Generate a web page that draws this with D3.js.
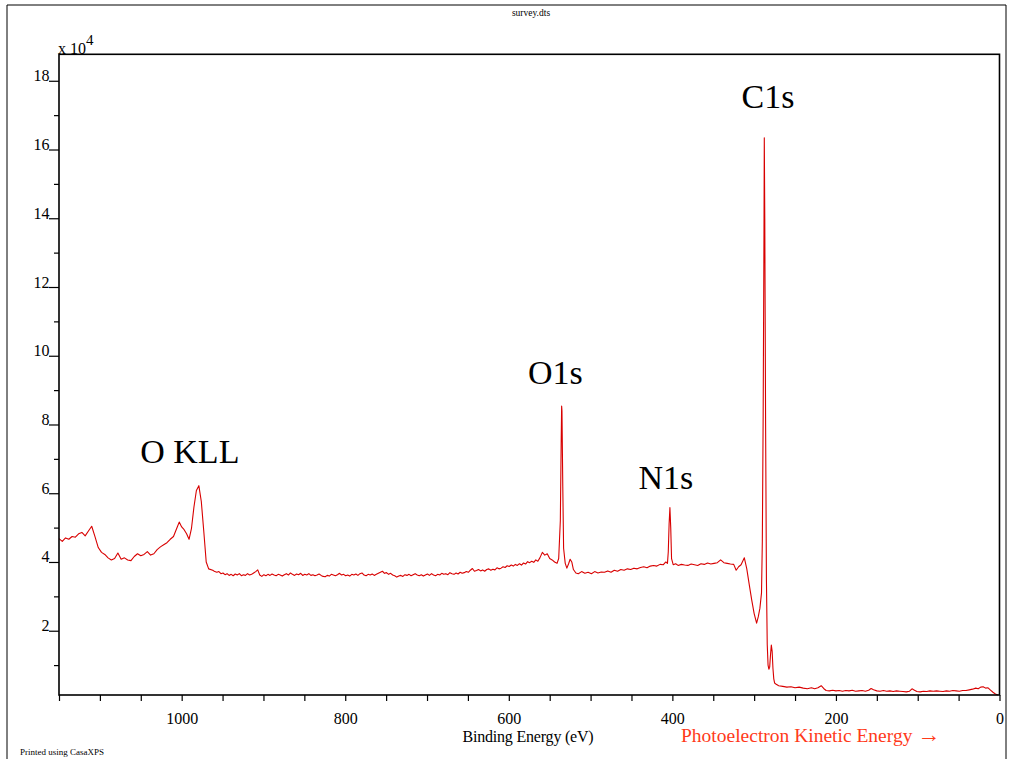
<!DOCTYPE html>
<html>
<head>
<meta charset="utf-8">
<script src="https://cdn.jsdelivr.net/npm/d3@7"></script>
<style>
  html, body { margin: 0; padding: 0; background: #fff; }
  svg { display: block; }
</style>
</head>
<body>
<svg id="chart" width="1009" height="759"></svg>
<script>
// XPS survey spectrum: binding energy (eV) and intensity (counts per second)
const bindingEnergy = [
  // O KLL Auger region
  1150,1146,1142,1138,1134,1130,1126,1122,1118,1114,
  1110,1106,1102,1098,1094,1090,1086,1082,1078,1074,
  1070,1066,1062,1058,1054,1050,1046,1042,1038,1034,
  1030,1026,1022,1018,1014,1010,1006,1003,1000,997,
  994,991,988,985,982,979,976,973,970,967,
  // flat background
  962,959.5,957,954.5,952,949.5,947,944.5,942,939.5,
  937,934.5,932,929.5,927,924.5,922,919.5,917,914.5,
  912,909.5,907,904.5,902,899.5,897,894.5,892,889.5,
  887,884.5,882,879.5,877,874.5,872,869.5,867,864.5,
  862,859.5,857,854.5,852,849.5,847,844.5,842,839.5,
  837,834.5,832,829.5,827,824.5,822,819.5,817,814.5,
  812,809.5,807,804.5,802,799.5,797,794.5,792,789.5,
  787,784.5,782,779.5,777,774.5,772,769.5,767,764.5,
  762,759.5,757,754.5,752,749.5,747,744.5,742,739.5,
  737,734.5,732,729.5,727,724.5,722,719.5,717,714.5,
  712,709.5,707,704.5,702,699.5,697,694.5,692,689.5,
  687,684.5,682,679.5,677,674.5,672,669.5,667,664.5,
  662,659.5,657,654.5,652,649.5,647,644.5,642,639.5,
  637,634.5,632,629.5,627,624.5,622,619.5,617,614.5,
  612,609.5,607,604.5,602,599.5,597,594.5,592,589.5,
  587,584.5,582,579.5,577,574.5,572,569.5,567,564.5,
  // O1s, N1s and C1s
  562,559,556,553,550,547,544,541,539,537,
  536,535.4,535,534,533,531,529,527,525,523,
  521,518,515,511,507,503,499,495,491,487,
  483,479,475,471,467,463,459,455,451,447,
  443,439,435,431,427,423,419,415,411,408,
  406,405,404,403,402,401,399,396,393,389,
  385,381,377,373,369,365,361,357,353,349,
  345,341,337,333,329,325,322,319,316,312,
  309,306,303,300,297,295,293,291,290,289,
  288,287.6,287,286,285,284,283,282,281,280,
  279,278,277,276,275,273,270,265,260,255,
  // valence region
  250,245,240,235,230,226,222,218,215,212,
  208,204,200,196,192,188,184,180,176,172,
  168,164,160,157,154,150,146,142,138,134,
  130,126,122,118,114,110,107,104,101,97,
  93,89,85,81,77,73,69,65,61,57,
  53,49,45,41,37,33,29,26,23,20,
  17,14,11,8,5,2
];
const intensity = [
  46800,46000,47000,46600,47400,47200,48200,48600,47600,49000,
  50400,47400,44200,42800,42200,41200,40600,41000,42600,40800,
  41200,40600,40400,41600,42400,41800,42200,43000,42000,42400,
  43600,44400,45000,45600,46600,47400,49800,51600,50200,49400,
  48200,46600,49800,56000,60800,62200,57600,49000,40000,38000,
  37600,37200,37000,37200,36600,36800,36300,36600,36100,36400,
  36000,36500,36200,36600,36000,36300,36100,36600,36200,36400,
  36800,37200,37700,36200,35800,36300,36000,36400,36100,36500,
  36200,36000,36400,36200,35900,36300,36600,36200,36800,36400,
  36100,36500,36300,36700,36100,36400,36200,36600,36100,36300,
  36000,36200,36500,36100,35800,35700,36100,35900,36400,36200,
  36000,36300,36700,36200,36400,36000,36200,35900,36400,36200,
  36500,36100,36600,36800,36200,36000,36400,36200,36500,36100,
  36400,36700,37000,37300,36700,36900,36400,36700,36200,36000,
  35600,35900,36100,35800,36300,36100,36400,36000,36300,36600,
  36200,36000,36300,35900,36200,36500,36100,36600,36200,36000,
  36400,36200,36700,36400,36600,36300,36900,36600,36400,36800,
  36500,37000,36700,36900,37200,37000,37600,38100,37300,37500,
  37800,37400,37700,37300,37800,38000,37600,37900,37700,38300,
  38000,38200,38600,38400,38900,38700,39100,38800,39300,39000,
  39500,39100,39700,39400,40100,39800,40200,39900,40600,40200,
  41200,42800,42000,42400,41000,40600,40000,39600,41000,52000,
  74000,85400,84000,62000,44000,39600,38200,39400,40800,40000,
  37800,36800,36600,37200,36700,37000,36600,37200,36800,37100,
  37000,37400,37000,37600,37300,37800,37600,38000,37800,38200,
  38000,38400,38600,38300,38800,39000,38800,39300,39200,40000,
  39600,43000,51000,55800,50000,41000,39200,39500,39000,39300,
  39100,39000,39400,39200,39000,39500,39300,39700,39400,39600,
  39800,40600,39800,39600,39400,39300,37600,38600,39200,41200,
  38000,33400,29000,25000,22200,24000,26500,31000,46000,82000,
  135000,163400,140000,80000,35000,16000,10000,8800,9400,13000,
  15800,14000,9000,6000,4800,4400,4000,3800,3600,3700,
  3400,3600,3300,3100,3400,3100,3400,4000,3200,2600,
  2500,2700,2500,2600,2400,2600,2500,2700,2400,2500,
  2600,2400,2700,3200,2800,2500,2400,2600,2400,2500,
  2300,2500,2400,2300,2200,2400,3100,2700,2300,2200,
  2400,2300,2500,2400,2500,2400,2300,2500,2400,2600,
  2500,2400,2600,2600,2800,3000,3300,3100,3600,3700,
  3300,3400,2700,2100,1600,1300
];

// Axis ticks
const xMajorTicks = [1000, 800, 600, 400, 200, 0];
const xMinorTicks = [1150,1100,1050,1000,950,900,850,800,750,700,650,600,550,500,450,400,350,300,250,200,150,100,50,0];
const yMajorTicks = [20000,40000,60000,80000,100000,120000,140000,160000,180000];
const yMinorTicks = [10000,30000,50000,70000,90000,110000,130000,150000,170000];
const yTickLabels = ["2","4","6","8","10","12","14","16","18"];

// Peak annotations
const peakNames = ["O KLL", "O1s", "N1s", "C1s"];
const peakLabelBE = [990, 543, 408, 283];
const peakLabelY = [463, 384, 489, 108];

const SERIF = "'Liberation Serif', 'Times New Roman', serif";
const svg = d3.select("#chart");
const plotLeft = 59, plotRight = 999.5, plotTop = 54.3, plotBottom = 695;

const x = d3.scaleLinear().domain([1150, 0]).range([plotLeft, plotRight]);
const y = d3.scaleLinear().domain([1300, 187700]).range([plotBottom, plotTop]);

// page frame
svg.append("path")
  .attr("d", "M7,770 V5 H1006 V770")
  .attr("fill", "none").attr("stroke", "#000").attr("stroke-width", 1);

// title
svg.append("text").attr("x", 531).attr("y", 16).attr("text-anchor", "middle")
  .attr("font-size", 9.5).text("survey.dts");

// spectrum
const pts = bindingEnergy.map((d, i) => [d, intensity[i]]);
svg.append("path")
  .datum(pts)
  .attr("fill", "none")
  .attr("stroke", "#d80000")
  .attr("stroke-width", 1.1)
  .attr("stroke-linejoin", "round")
  .attr("d", d3.line().x(d => x(d[0])).y(d => y(d[1])));

// x axis
const xAxis = svg.append("g").attr("transform", `translate(0,${plotBottom})`)
  .call(d3.axisBottom(x).tickValues(xMinorTicks).tickSize(6).tickSizeOuter(0)
    .tickFormat(d => xMajorTicks.includes(d) ? String(d) : ""));
xAxis.select(".domain").remove();
xAxis.selectAll(".tick line").attr("stroke", "#000").attr("stroke-width", 1.2);
xAxis.selectAll(".tick text").attr("font-size", 16)
  .attr("fill", "#000").attr("y", 0).attr("dy", 0).attr("transform", "translate(0,29)");

// y axis, major ticks with labels
const yAxis = svg.append("g").attr("transform", `translate(${plotLeft},0)`)
  .call(d3.axisLeft(y).tickValues(yMajorTicks).tickSize(10).tickSizeOuter(0)
    .tickFormat((d, i) => yTickLabels[i]));
yAxis.select(".domain").remove();
yAxis.selectAll(".tick line").attr("stroke", "#000").attr("stroke-width", 1.2);
yAxis.selectAll(".tick text").attr("font-size", 16)
  .attr("x", -9.5).attr("dy", 0).attr("fill", "#000");

// y axis, minor ticks
const yMinor = svg.append("g").attr("transform", `translate(${plotLeft},0)`)
  .call(d3.axisLeft(y).tickValues(yMinorTicks).tickSize(5).tickSizeOuter(0).tickFormat(""));
yMinor.select(".domain").remove();
yMinor.selectAll(".tick line").attr("stroke", "#000").attr("stroke-width", 1.2);

// plot box
svg.append("rect").attr("x", plotLeft).attr("y", plotTop)
  .attr("width", plotRight - plotLeft).attr("height", plotBottom - plotTop)
  .attr("fill", "none").attr("stroke", "#000").attr("stroke-width", 1.6);

// scale multiplier
const mult = svg.append("text").attr("x", 58).attr("y", 53.5).attr("font-size", 16);
mult.append("tspan").text("x 10");
mult.append("tspan").attr("dy", -9).attr("font-size", 15).text("4");

// peak labels
svg.append("g").selectAll("text").data(peakNames).join("text")
  .attr("x", (d, i) => x(peakLabelBE[i]))
  .attr("y", (d, i) => peakLabelY[i])
  .attr("text-anchor", "middle")
  .attr("font-size", 34)
  .text(d => d);

// axis titles
svg.append("text").attr("x", 528).attr("y", 742).attr("text-anchor", "middle")
  .attr("font-size", 16).attr("letter-spacing", -0.2).text("Binding Energy (eV)");
const ke = svg.append("text").attr("x", 681).attr("y", 742)
  .attr("font-size", 19.5).attr("fill", "#ff3a1a");
ke.append("tspan").text("Photoelectron Kinetic Energy ");
ke.append("tspan").attr("font-size", 23).text("\u2192");

svg.append("text").attr("x", 20).attr("y", 755).attr("font-size", 9)
  .text("Printed using CasaXPS");

// every label in a Times-style face
svg.selectAll("text").style("font-family", SERIF);
</script>
</body>
</html>
